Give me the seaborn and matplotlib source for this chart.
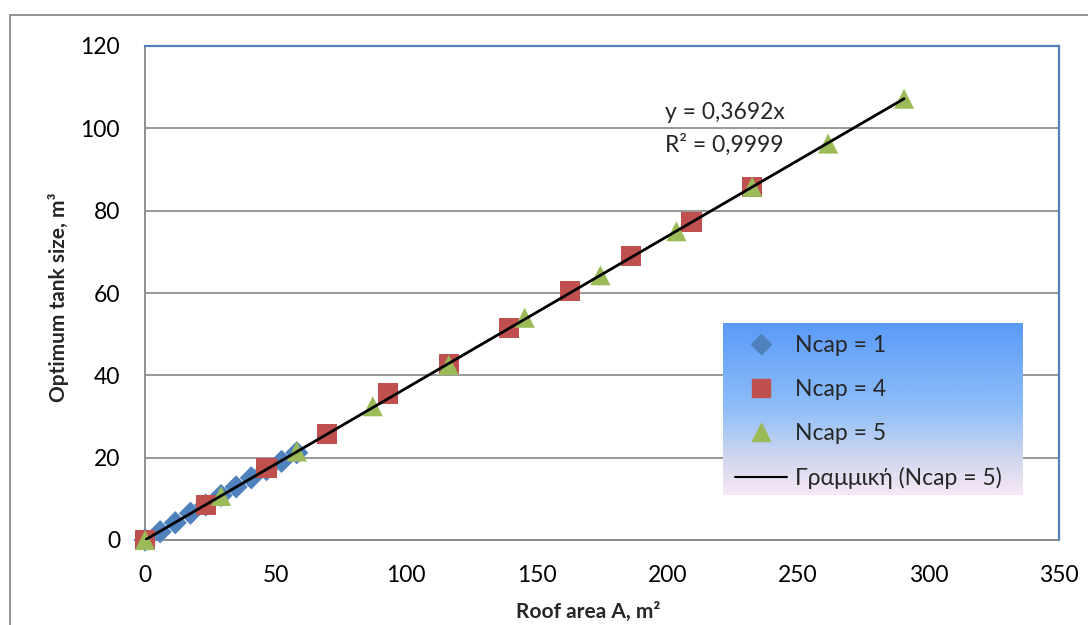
import numpy as np
import pandas as pd
import matplotlib
matplotlib.use("Agg")
import matplotlib.pyplot as plt
import seaborn as sns
from matplotlib.lines import Line2D
from matplotlib.patches import Rectangle
from matplotlib.colors import LinearSegmentedColormap

# ---------------- data ----------------
area_ncap1 = [0, 5.8, 11.6, 17.4, 23.2, 29.1, 34.9, 40.7, 46.5, 52.3, 58.1]
tank_ncap1 = [0, 2.0, 4.2, 6.5, 8.5, 10.8, 12.9, 15.1, 17.1, 19.1, 21.2]

area_ncap4 = [0, 23.3, 46.5, 69.8, 93.0, 116.3, 139.5, 162.8, 186.0, 209.3, 232.5]
tank_ncap4 = [0, 8.5, 17.5, 25.7, 35.6, 42.7, 51.5, 60.5, 69.0, 77.3, 85.8]

area_ncap5 = [0, 29.1, 58.1, 87.2, 116.3, 145.4, 174.4, 203.5, 232.5, 261.6, 290.7]
tank_ncap5 = [0, 10.7, 21.5, 32.5, 42.5, 54.0, 64.3, 75.0, 85.8, 96.3, 107.2]

series_labels = ["Ncap = 1", "Ncap = 4", "Ncap = 5"]
trend_label = "Γραμμική (Ncap = 5)"
equation_text = "y = 0,3692x"
r2_text = "R² = 0,9999"
x_ticks = [0, 50, 100, 150, 200, 250, 300, 350]
y_ticks = [0, 20, 40, 60, 80, 100, 120]
x_title = "Roof area A, m²"
y_title = "Optimum tank size, m³"

# ---------------- styling ----------------
sns.set_theme(style="white")
plt.rcParams["font.family"] = ["Lato", "DejaVu Sans"]

colors = {"Ncap = 1": "#4F81BD", "Ncap = 4": "#C0504D", "Ncap = 5": "#9BBB59"}
markers = {"Ncap = 1": "D", "Ncap = 4": "s", "Ncap = 5": "^"}
sizes = {"Ncap = 1": 140, "Ncap = 4": 210, "Ncap = 5": 210}
grey = "#868686"
blue_spine = "#4F81BD"
tick_fs = 16.5
title_fs = 15

df = pd.concat([
    pd.DataFrame({"A": area_ncap1, "V": tank_ncap1, "series": series_labels[0]}),
    pd.DataFrame({"A": area_ncap4, "V": tank_ncap4, "series": series_labels[1]}),
    pd.DataFrame({"A": area_ncap5, "V": tank_ncap5, "series": series_labels[2]}),
], ignore_index=True)

fig = plt.figure(figsize=(10.88, 6.25), dpi=100)
ax = fig.add_axes([0.1333, 0.136, 0.84, 0.7904])

# outer chart frame
fig.add_artist(Rectangle((10 / 1088, -0.1), 1.2, 1.1 - 15 / 625,
                         transform=fig.transFigure, fill=False,
                         edgecolor="#8C8C8C", lw=1.3))

for lab in series_labels:
    sub = df[df["series"] == lab]
    sns.scatterplot(data=sub, x="A", y="V", marker=markers[lab],
                    color=colors[lab], s=sizes[lab], edgecolor="none",
                    legend=False, ax=ax, clip_on=False, zorder=3)

# linear trend through origin for Ncap = 5 (least squares from data)
xa = np.array(area_ncap5)
ya = np.array(tank_ncap5)
slope = np.sum(xa * ya) / np.sum(xa * xa)
sns.lineplot(x=[0, xa.max()], y=[0, slope * xa.max()], color="black",
             lw=2, ax=ax, zorder=4)

ax.set_xlim(0, 350)
ax.set_ylim(0, 120)
ax.set_xticks(x_ticks)
ax.set_yticks(y_ticks)
ax.yaxis.grid(True, color=grey, lw=1.2)
ax.xaxis.grid(False)
ax.set_axisbelow(True)
for side in ["left", "bottom"]:
    ax.spines[side].set_color(grey)
    ax.spines[side].set_linewidth(1.3)
for side in ["top", "right"]:
    ax.spines[side].set_color(blue_spine)
    ax.spines[side].set_linewidth(1.6)
ax.tick_params(axis="both", direction="out", length=8, width=1.2,
               color=grey, labelsize=tick_fs, labelcolor="black")
ax.tick_params(axis="y", pad=10)
ax.tick_params(axis="x", pad=10)

ax.set_xlabel(x_title, fontsize=title_fs, fontweight="bold")
ax.set_ylabel(y_title, fontsize=title_fs, fontweight="bold")
ax.xaxis.set_label_coords(0.485, -0.146)
ax.xaxis.label.set_va("center")
ax.yaxis.set_label_coords(-0.095, 0.492)
ax.yaxis.label.set_va("center")

ax.text(0.569, 0.866, equation_text, transform=ax.transAxes, fontsize=tick_fs,
        va="center", ha="left")
ax.text(0.569, 0.800, r2_text, transform=ax.transAxes, fontsize=tick_fs,
        va="center", ha="left")

# legend with gradient background
lg_box = [723 / 1088, 1 - 495 / 625, (1022 - 723) / 1088, (495 - 323) / 625]
gax = fig.add_axes(lg_box)
cmap = LinearSegmentedColormap.from_list(
    "lg", [(0, "#F8E7F6"), (0.2, "#D3D8EE"), (0.5, "#8FBEF8"), (1, "#5A9AF8")])
gax.imshow(np.linspace(0, 1, 256).reshape(-1, 1)[::-1], aspect="auto",
           cmap=cmap, extent=[0, 1, 0, 1])
gax.set_axis_off()

handles = [
    Line2D([], [], marker="D", color=colors["Ncap = 1"], ls="none", markersize=10),
    Line2D([], [], marker="s", color=colors["Ncap = 4"], ls="none", markersize=13),
    Line2D([], [], marker="^", color=colors["Ncap = 5"], ls="none", markersize=13),
    Line2D([], [], color="black", lw=1.5),
]
fig.legend(handles, series_labels + [trend_label], loc="upper left",
           bbox_to_anchor=(735 / 1088, 1 - 335 / 625), frameon=False,
           fontsize=tick_fs, handlelength=2.25, handletextpad=0.35,
           labelspacing=1.0, borderpad=0, borderaxespad=0)

fig.savefig("out.png", dpi=100)
